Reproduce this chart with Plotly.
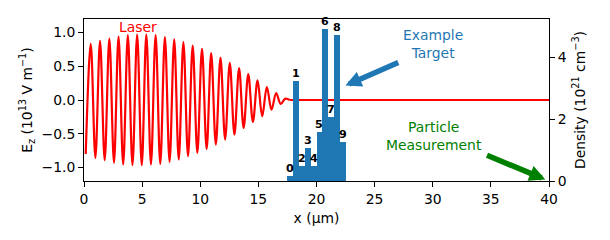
import plotly.graph_objects as go

# Laser field: extrema (peaks / troughs)
laser_x = [0.15, 0.58, 0.98, 1.38, 1.78, 2.18, 2.58, 2.97, 3.37, 3.77, 4.17, 4.57,
           4.97, 5.36, 5.76, 6.16, 6.56, 6.96, 7.36, 7.76, 8.15, 8.55, 8.95, 9.35,
           9.75, 10.15, 10.55, 10.94, 11.34, 11.74, 12.14, 12.54, 12.94, 13.34,
           13.73, 14.13, 14.53, 14.93, 15.33, 15.73, 16.13, 16.53, 16.92, 17.32,
           17.7]
laser_ez = [-0.80, 0.832, -0.857, 0.876, -0.891, 0.911, -0.931, 0.940, -0.955, 0.960,
            -0.965, 0.970, -0.965, 0.970, -0.955, 0.963, -0.945, 0.930, -0.916, 0.900,
            -0.881, 0.857, -0.832, 0.807, -0.783, 0.758, -0.724, 0.694, -0.660, 0.630,
            -0.586, 0.550, -0.512, 0.473, -0.414, 0.384, -0.325, 0.290, -0.241, 0.192,
            -0.143, 0.103, -0.059, 0.020, 0.0]
# flat (zero) field after the pulse
laser_tail_x = [17.7, 40.0]
laser_tail_ez = [0.0, 0.0]

# Target density bars
bar_x = [17.75, 18.25, 18.75, 19.25, 19.75, 20.25, 20.75, 21.25, 21.75, 22.25]
bar_density = [0.15, 3.24, 0.50, 1.08, 0.47, 1.60, 4.91, 2.08, 4.72, 1.27]
bar_labels = ["0", "1", "2", "3", "4", "5", "6", "7", "8", "9"]

x_ticks = [0, 5, 10, 15, 20, 25, 30, 35, 40]
y_ticks = [-1.0, -0.5, 0.0, 0.5, 1.0]
y2_ticks = [0, 2, 4]

FONT = "DejaVu Sans"
FS = 13.9
RED = "#ff0000"
BLUE = "#1f77b4"
GREEN = "#008000"

fig = go.Figure()
fig.add_trace(go.Scatter(
    x=laser_x, y=laser_ez, mode="lines",
    line=dict(color=RED, width=2.2, shape="spline", smoothing=1),
    hoverinfo="skip", showlegend=False))
fig.add_trace(go.Scatter(
    x=laser_tail_x, y=laser_tail_ez, mode="lines",
    line=dict(color=RED, width=2.2),
    hoverinfo="skip", showlegend=False))
fig.add_trace(go.Bar(
    x=bar_x, y=bar_density, width=0.5, yaxis="y2",
    marker=dict(color=BLUE, line=dict(width=0)),
    hoverinfo="skip", showlegend=False))

axis_common = dict(
    ticks="outside", ticklen=4.9, tickwidth=1.1, tickcolor="black",
    showline=True, linecolor="black", linewidth=1.1,
    showgrid=False, zeroline=False,
    tickfont=dict(family=FONT, size=FS, color="black"),
    automargin=False,
)

annotations = [
    dict(x=4.67, y=1.08, xref="x", yref="y", text="Laser", showarrow=False,
         font=dict(family=FONT, size=FS, color=RED)),
    dict(x=30.0, y=0.83, xref="x", yref="y", text="Example<br>Target",
         showarrow=False, font=dict(family=FONT, size=FS, color=BLUE)),
    dict(x=30.1, y=-0.54, xref="x", yref="y", text="Particle<br>Measurement",
         showarrow=False, font=dict(family=FONT, size=FS, color=GREEN)),
    dict(x=22.17, y=0.19, ax=27.16, ay=0.566, xref="x", yref="y",
         axref="x", ayref="y", text="", showarrow=True, arrowhead=2,
         arrowsize=0.58, arrowwidth=5.5, arrowcolor=BLUE, standoff=4),
    dict(x=40.0, y=-1.2, ax=34.54, ay=-0.81, xref="x", yref="y",
         axref="x", ayref="y", text="", showarrow=True, arrowhead=2,
         arrowsize=0.58, arrowwidth=5.5, arrowcolor=GREEN, standoff=4),
]
# bar index labels sitting on top of each bar
for bx, bd, bl in zip(bar_x, bar_density, bar_labels):
    annotations.append(dict(
        x=bx, y=bd, xref="x", yref="y2", text="<b>" + bl + "</b>",
        showarrow=False, xanchor="center", yanchor="bottom", borderpad=0,
        font=dict(family=FONT, size=11.1, color="black")))

fig.update_layout(
    width=610, height=240,
    margin=dict(l=84, r=61, t=19, b=59, pad=0),
    paper_bgcolor="white", plot_bgcolor="white",
    showlegend=False, bargap=0,
    font=dict(family=FONT, size=FS, color="black"),
    xaxis=dict(range=[0, 40], tickvals=x_ticks, mirror=True,
               title=dict(text="x (µm)", standoff=7,
                          font=dict(family=FONT, size=FS, color="black")),
               **axis_common),
    yaxis=dict(range=[-1.2, 1.2], tickvals=y_ticks, tickformat=".1f",
               title=dict(text="E<sub>z</sub> (10<sup>13</sup> V m<sup>−1</sup>)",
                          standoff=5,
                          font=dict(family=FONT, size=FS, color="black")),
               **axis_common),
    yaxis2=dict(range=[0, 5.24], tickvals=y2_ticks, overlaying="y", side="right",
                title=dict(text="Density (10<sup>21</sup> cm<sup>−3</sup>)",
                           standoff=9,
                           font=dict(family=FONT, size=FS, color="black")),
                **axis_common),
    annotations=annotations,
)

fig.write_html(
    "out.html",
    config={"displayModeBar": False},
    post_script="document.body.style.margin='0';document.body.style.overflow='hidden';",
)
